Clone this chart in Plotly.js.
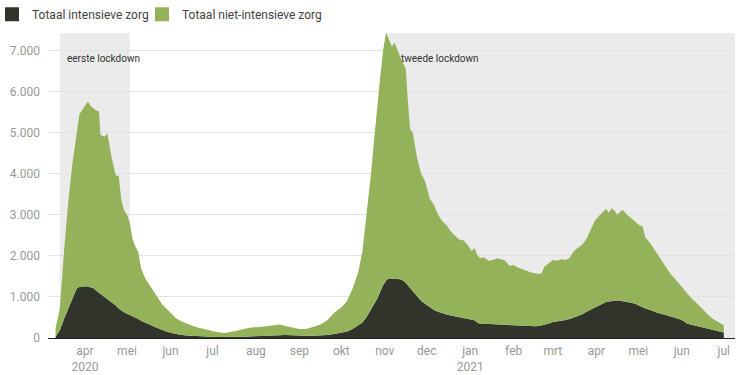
<!DOCTYPE html>
<html>
<head>
<meta charset="utf-8">
<script src="https://cdn.plot.ly/plotly-3.0.1.min.js"></script>
<style>html,body{margin:0;padding:0;background:#fff;}#chart{width:738px;height:375px;}</style>
</head>
<body>
<div id="chart"></div>
<script>
const dates = ['2020-03-11','2020-03-14','2020-03-17','2020-03-20','2020-03-23','2020-03-26','2020-03-28','2020-03-31','2020-04-02','2020-04-03','2020-04-05','2020-04-07','2020-04-09','2020-04-11','2020-04-12','2020-04-15','2020-04-17','2020-04-20','2020-04-23','2020-04-25','2020-04-27','2020-04-29','2020-05-01','2020-05-03','2020-05-05','2020-05-07','2020-05-09','2020-05-11','2020-05-14','2020-05-17','2020-05-20','2020-05-23','2020-05-26','2020-05-29','2020-06-01','2020-06-05','2020-06-09','2020-06-13','2020-06-17','2020-06-21','2020-06-25','2020-06-30','2020-07-05','2020-07-10','2020-07-15','2020-07-20','2020-07-25','2020-07-30','2020-08-04','2020-08-09','2020-08-14','2020-08-18','2020-08-22','2020-08-27','2020-09-01','2020-09-06','2020-09-11','2020-09-16','2020-09-21','2020-09-26','2020-10-01','2020-10-05','2020-10-09','2020-10-13','2020-10-16','2020-10-19','2020-10-22','2020-10-25','2020-10-27','2020-10-29','2020-10-31','2020-11-02','2020-11-03','2020-11-05','2020-11-06','2020-11-08','2020-11-10','2020-11-12','2020-11-14','2020-11-16','2020-11-17','2020-11-19','2020-11-21','2020-11-24','2020-11-27','2020-11-30','2020-12-03','2020-12-06','2020-12-09','2020-12-12','2020-12-15','2020-12-18','2020-12-21','2020-12-24','2020-12-27','2020-12-30','2021-01-02','2021-01-04','2021-01-06','2021-01-08','2021-01-11','2021-01-14','2021-01-17','2021-01-20','2021-01-23','2021-01-26','2021-01-29','2021-02-01','2021-02-04','2021-02-07','2021-02-10','2021-02-13','2021-02-16','2021-02-19','2021-02-21','2021-02-23','2021-02-26','2021-03-01','2021-03-04','2021-03-07','2021-03-10','2021-03-13','2021-03-16','2021-03-19','2021-03-22','2021-03-25','2021-03-28','2021-03-31','2021-04-03','2021-04-06','2021-04-08','2021-04-10','2021-04-12','2021-04-14','2021-04-16','2021-04-18','2021-04-20','2021-04-23','2021-04-26','2021-04-29','2021-05-02','2021-05-04','2021-05-06','2021-05-09','2021-05-12','2021-05-15','2021-05-18','2021-05-21','2021-05-24','2021-05-27','2021-05-30','2021-06-02','2021-06-05','2021-06-08','2021-06-11','2021-06-14','2021-06-17','2021-06-20','2021-06-23','2021-06-26','2021-06-29','2021-07-01'];

// total hospital occupancy (IC + non-IC)
const totaal = [250,700,2100,3300,4250,4900,5450,5600,5700,5760,5650,5600,5540,5520,4950,4900,4980,4400,3960,3950,3350,3100,3000,2800,2400,2220,2100,1700,1450,1300,1150,1000,820,720,620,480,400,340,290,250,220,170,140,120,150,190,230,260,270,290,310,330,290,260,220,220,270,330,430,620,740,900,1200,1600,2100,3000,3950,5050,5800,6450,7050,7450,7350,7150,7100,7200,7000,6850,6700,6550,6000,5100,5000,4400,4000,3800,3400,3250,3000,2850,2750,2600,2500,2400,2380,2280,2120,2190,2020,1950,1960,1880,1900,1940,1920,1880,1760,1780,1720,1680,1640,1600,1580,1560,1580,1740,1820,1900,1880,1920,1900,1950,2120,2200,2280,2420,2650,2860,2980,3080,3140,3050,3160,3100,3000,3080,3120,3000,2920,2820,2740,2720,2450,2330,2180,2000,1850,1710,1560,1450,1320,1200,1080,960,870,760,650,560,470,410,360,310];

// intensive care occupancy
const intensieveZorg = [30,180,460,720,950,1200,1240,1260,1260,1255,1240,1210,1150,1100,1080,1010,960,880,790,720,660,620,590,560,520,490,460,420,380,330,280,240,190,160,130,95,75,60,50,40,35,30,25,22,22,25,30,40,45,55,65,75,75,65,55,55,55,60,75,100,130,160,220,300,380,510,680,850,980,1150,1300,1400,1430,1450,1450,1450,1440,1430,1400,1340,1300,1200,1130,1010,900,830,750,680,640,600,570,550,530,510,490,470,450,430,380,350,345,340,345,340,330,320,310,305,300,295,290,285,285,295,310,325,350,390,400,420,440,460,500,540,580,640,700,740,790,850,875,890,900,915,915,910,900,880,860,830,780,750,720,690,640,610,585,555,530,500,465,420,350,320,295,270,255,225,195,170,150,135];

const nietIntensieveZorg = totaal.map((t, i) => t - intensieveZorg[i]);

const monthTicks = ['2020-04-01','2020-05-01','2020-06-01','2020-07-01','2020-08-01','2020-09-01','2020-10-01','2020-11-01','2020-12-01','2021-01-01','2021-02-01','2021-03-01','2021-04-01','2021-05-01','2021-06-01','2021-07-01'];
const monthLabels = ['apr<br>2020','mei','jun','jul','aug','sep','okt','nov','dec','jan<br>2021','feb','mrt','apr','mei','jun','jul'];
const yTicks = [0,1000,2000,3000,4000,5000,6000,7000];
const yLabels = ['0','1.000','2.000','3.000','4.000','5.000','6.000','7.000'];

const lockdowns = [
  {name: 'eerste lockdown', start: '2020-03-14', end: '2020-05-03'},
  {name: 'tweede lockdown', start: '2020-11-03', end: '2021-07-10'}
];

const darkColor = '#30342a';
const greenColor = '#94b25a';

const traces = [
  {x: dates, y: intensieveZorg, type: 'scatter', mode: 'lines', stackgroup: 'one', name: 'Totaal intensieve zorg',
   line: {width: 0, color: darkColor}, fillcolor: darkColor, showlegend: false},
  {x: dates, y: nietIntensieveZorg, type: 'scatter', mode: 'lines', stackgroup: 'one', name: 'Totaal niet-intensieve zorg',
   line: {width: 0, color: greenColor}, fillcolor: greenColor, showlegend: false},
  {x: [null], y: [null], type: 'scatter', mode: 'markers', name: 'Totaal intensieve zorg', legend: 'legend',
   marker: {symbol: 'square', size: 14, color: darkColor}},
  {x: [null], y: [null], type: 'scatter', mode: 'markers', name: 'Totaal niet-intensieve zorg', legend: 'legend2',
   marker: {symbol: 'square', size: 14, color: greenColor}}
];

const legendBase = {orientation: 'h', xanchor: 'left', y: 1.0136, yanchor: 'bottom',
  font: {size: 12, color: '#444444'}, bgcolor: 'rgba(0,0,0,0)'};

const layout = {
  width: 738, height: 375,
  margin: {l: 48, r: 3, t: 33, b: 37, autoexpand: false},
  paper_bgcolor: '#ffffff', plot_bgcolor: 'rgba(0,0,0,0)',
  font: {family: 'Roboto, sans-serif', size: 12, color: '#999999'},
  showlegend: true,
  legend: Object.assign({}, legendBase, {x: -0.0815}),
  legend2: Object.assign({}, legendBase, {x: 0.1368}),
  xaxis: {type: 'date', range: ['2020-03-05 14:00', '2021-07-09'], automargin: false,
          tickvals: monthTicks, ticktext: monthLabels, showgrid: false, zeroline: false,
          showline: true, linecolor: '#222222', linewidth: 1, ticks: '', ticklabelstandoff: 2,
          tickfont: {size: 12, color: '#999999'}, fixedrange: true},
  yaxis: {range: [0, 7430], tickvals: yTicks, ticktext: yLabels, showgrid: true, automargin: false,
          gridcolor: '#e3e3e3', gridwidth: 1, zeroline: false, ticks: '', showline: false,
          tickfont: {size: 12, color: '#999999'}, fixedrange: true, ticklabelstandoff: 7},
  shapes: lockdowns.map(l => ({type: 'rect', xref: 'x', yref: 'paper', x0: l.start, x1: l.end,
          y0: 0, y1: 1, fillcolor: '#ebebeb', line: {width: 0}, layer: 'below'})),
  annotations: lockdowns.map((l, i) => ({x: l.start, y: 6820, xref: 'x', yref: 'y', text: l.name,
          showarrow: false, xanchor: 'left', yanchor: 'middle', xshift: i === 0 ? 5 : 11,
          font: {family: 'Roboto, sans-serif', size: 10, color: '#333333'}}))
};

Plotly.newPlot('chart', traces, layout, {displayModeBar: false, staticPlot: true});
</script>
</body>
</html>
